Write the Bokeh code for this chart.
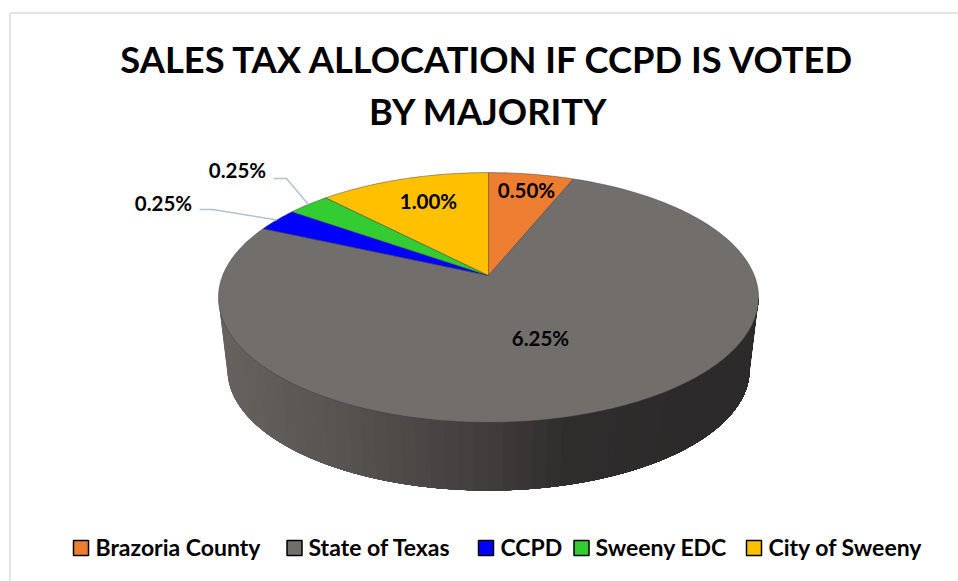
import numpy as np
from bokeh.embed import file_html
from bokeh.resources import INLINE
from bokeh.plotting import figure
from bokeh.models import Range1d
from bokeh.core.properties import value

title_lines = ["SALES TAX ALLOCATION IF CCPD IS VOTED", "BY MAJORITY"]
categories = ["Brazoria County", "State of Texas", "CCPD", "Sweeny EDC", "City of Sweeny"]
values = [0.50, 6.25, 0.25, 0.25, 1.00]
labels = ["0.50%", "6.25%", "0.25%", "0.25%", "1.00%"]
colors = ["#ED7D31", "#726E6C", "#0000FF", "#33CC33", "#FFC000"]

W, H = 958, 581
FONT = value("Lato")
p = figure(width=W, height=H, output_backend="svg", toolbar_location=None,
           x_range=Range1d(0, W), y_range=Range1d(H, 0),
           min_border=0, outline_line_color=None, background_fill_color="white",
           border_fill_color="white")
p.axis.visible = False
p.grid.visible = False

# perspective projection of the pie's disc
CX, CY, A, B, K = 488.0, 275.0, 265.8, 121.0, 0.176
BY, BA, BB = 348.0, 257.0, 117.0

def top(t):
    w = 1 + K * np.cos(t)
    return CX + A * np.sin(t) / w, CY - B * np.cos(t) / w

def bottom(t):
    w = 1 + K * np.cos(t)
    return CX + BA * np.sin(t) / w, BY - BB * np.cos(t) / w

# chart-area border
p.line([958, 9.5, 9.5], [12.5, 12.5, 581], line_color="#E1E5EA", line_width=2)

# side wall: overlapping strips painted left to right, so no seams show
stops_x = [220, 350, 480, 560, 700, 760]
stops_c = np.array([[0x66, 0x62, 0x60], [0x55, 0x51, 0x4F], [0x40, 0x3D, 0x3C],
                    [0x30, 0x2D, 0x2D], [0x2C, 0x2A, 0x2A], [0x2C, 0x2A, 0x2A]], float)
t_left = 2 * np.pi - np.arccos(-K)
t_right = np.arccos(-K)
edges = np.linspace(t_left, t_right, 61)
xs, ys, fills = [], [], []
for a in edges[:-1]:
    tt = np.linspace(a, t_right, 80)
    x1, y1 = top(tt)
    x2, y2 = bottom(tt[::-1])
    xs.append(np.concatenate([x1, x2]).tolist())
    ys.append(np.concatenate([y1, y2]).tolist())
    rgb = [int(np.interp(float(x1[0]), stops_x, stops_c[:, i])) for i in range(3)]
    fills.append("#%02X%02X%02X" % tuple(rgb))
p.patches(xs, ys, fill_color=fills, line_color=None)

# top face
total = sum(values)
cum = np.cumsum([0] + values) / total * 2 * np.pi
for i, col in enumerate(colors):
    tt = np.linspace(cum[i], cum[i + 1], max(6, int((cum[i + 1] - cum[i]) * 60)))
    x, y = top(tt)
    p.patch([CX] + x.tolist(), [CY] + y.tolist(), fill_color=col,
            line_color="#3A3A3A", line_width=0.6, line_alpha=0.8)

# title
p.text([488, 488], [58.5, 110.5], text=title_lines, text_font=FONT, text_font_style="bold",
       text_font_size="36.3px", text_color="black", text_align="center", text_baseline="middle")

# data labels
LX = [526, 540, 163, 237, 428]
LY = [189, 337, 202, 169, 200]
p.text(LX, LY, text=labels, text_font=FONT, text_font_style="bold", text_font_size="20.5px",
       text_color="black", text_align="center", text_baseline="middle")

# leader lines to the two small slices
mids = (cum[:-1] + cum[1:]) / 2
for i, sx, ly in ((2, 199, 209), (3, 273, 178)):
    mx, my = top(mids[i])
    p.line([sx, sx + 13, float(mx)], [ly, ly, float(my)], line_color="#B4C0D0", line_width=1.5)

# legend
SQX = [80.5, 294, 485.5, 581, 753.5]
TX = [95, 308, 500, 595, 768]
p.scatter(SQX, [547.5] * 5, marker="square", size=15, fill_color=colors,
          line_color="black", line_width=1.5)
p.text(TX, [546] * 5, text=categories, text_font=FONT, text_font_style="bold",
       text_font_size="23px", text_color="black", text_align="left", text_baseline="middle")

open("out.html", "w").write(file_html(p, INLINE))
